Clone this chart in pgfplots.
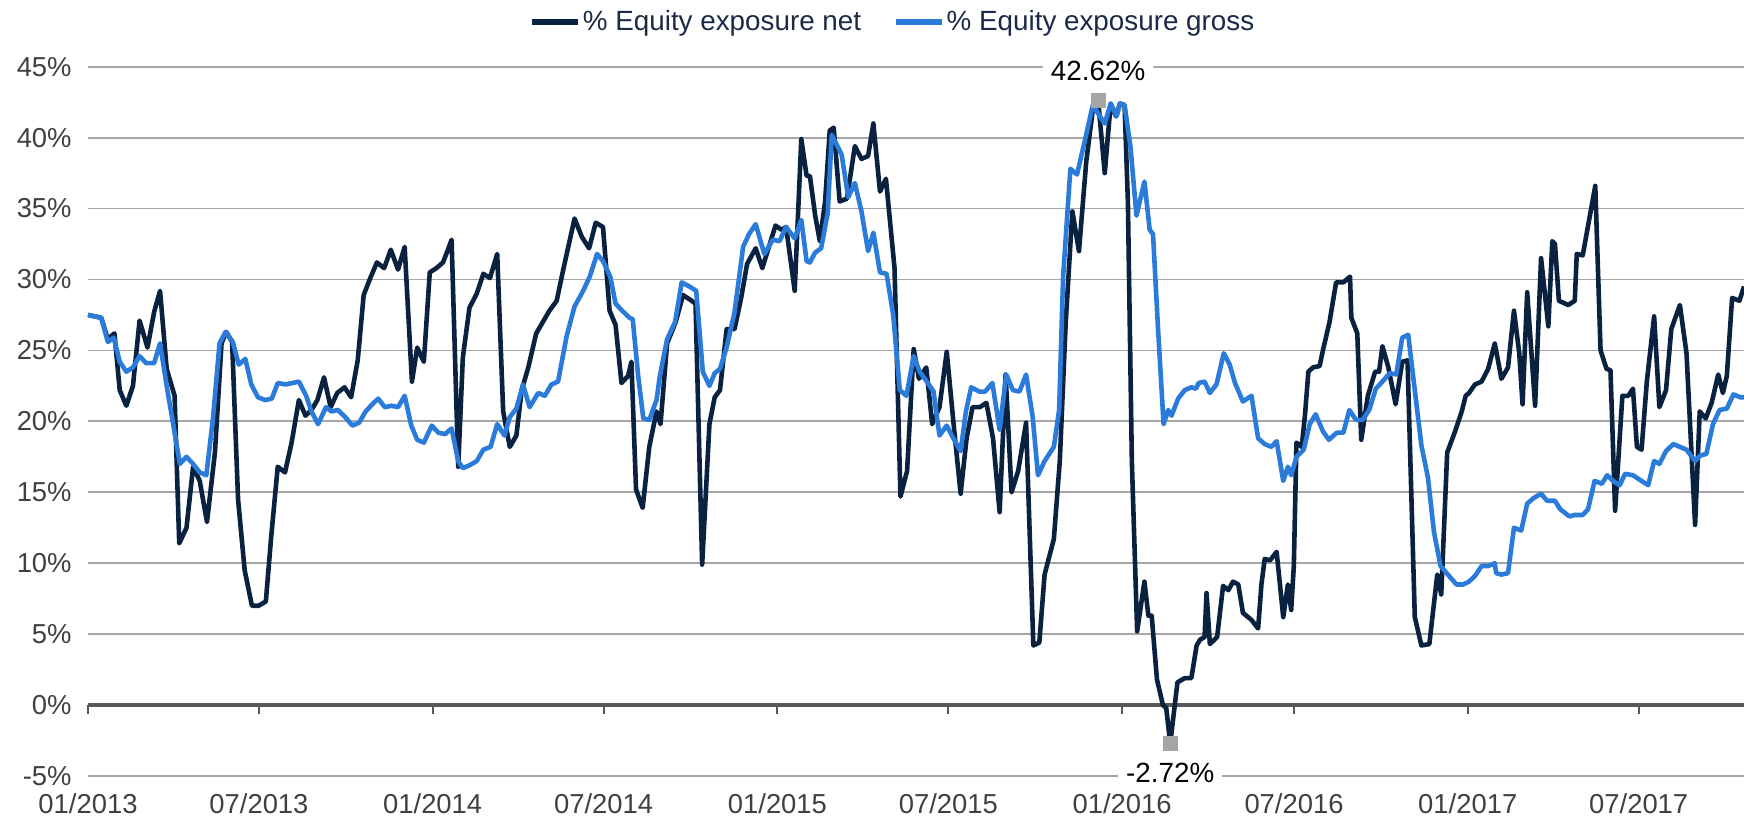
\documentclass[border=0pt]{standalone}
\usepackage{pgfplots}
\pgfplotsset{compat=1.18}
\usepackage{fontspec}
\setmainfont{Liberation Sans}
\definecolor{netc}{HTML}{0A2240}
\definecolor{grossc}{HTML}{2B7BDB}
\definecolor{gridc}{HTML}{A6A6A6}
\definecolor{axisc}{HTML}{595959}
\definecolor{tickc}{HTML}{404040}
\definecolor{legc}{HTML}{1B2A47}
\definecolor{markc}{HTML}{A5A5A5}
\begin{document}
\begin{tikzpicture}
\begin{axis}[
  at={(0,0)}, anchor=south west,
  scale only axis, width=828pt, height=354.65pt,
  xmin=0, xmax=250.5, ymin=-5, ymax=45,
  clip=false,
  axis line style={draw=none},
  tick style={draw=none},
  major tick length=0pt,
  ytick={-5,0,...,45},
  yticklabels={-5\%,0\%,5\%,10\%,15\%,20\%,25\%,30\%,35\%,40\%,45\%},
  xtick={0,25.86,52.14,78.0,104.29,130.14,156.43,182.43,208.71,234.57},
  xticklabels={01/2013,07/2013,01/2014,07/2014,01/2015,07/2015,01/2016,07/2016,01/2017,07/2017},
  ymajorgrids, grid style={gridc, line width=0.9pt},
  tick label style={font=\fontsize{13.7}{16}\selectfont, text=tickc},
  yticklabel style={anchor=east, inner sep=0pt, xshift=-8pt},
  xticklabel style={anchor=base, inner sep=0pt, yshift=-19pt},
  legend columns=2,
  legend style={at={(0.486,1.063)}, anchor=center, draw=none, fill=none,
    font=\fontsize{13.9}{16}\selectfont, text=legc,
    /tikz/every even column/.append style={column sep=15pt},
    inner sep=0pt, nodes={inner sep=1pt}},
  legend image code/.code={\draw[#1, line width=2.8pt] (0pt,0pt) -- (23pt,0pt);},
]
\draw[axisc, line width=1.6pt] (axis cs:0,0) -- (axis cs:250.5,0);
\pgfplotsinvokeforeach{0,25.86,52.14,78.0,104.29,130.14,156.43,182.43,208.71,234.57}{
  \draw[axisc, line width=1pt] (axis cs:#1,0) -- ++(0pt,-4.5pt);
}
\addplot[netc, line width=2.3pt, line join=round] coordinates {
(0,27.5) (2.0,27.3) (3.0,25.8) (4.0,26.2) (4.8,22.2) (5.8,21.1) (6.8,22.5) (7.8,27.1) (9.0,25.2) (10.0,27.7) (10.9,29.2) (11.9,23.7) (13.1,21.8) (13.8,11.4) (14.9,12.5) (15.9,16.8) (16.9,15.8) (18.0,12.9) (19.2,17.8) (20.2,25.5) (20.9,26.3) (21.8,25.6) (22.7,14.5) (23.7,9.5) (24.8,7.0) (25.8,7.0) (26.9,7.3) (27.7,11.8) (28.7,16.8) (29.8,16.4) (30.8,18.5) (31.9,21.5) (32.9,20.4) (33.8,20.8) (34.7,21.5) (35.7,23.1) (36.7,21.0) (37.7,22.0) (38.8,22.4) (39.8,21.7) (40.8,24.3) (41.7,28.9) (42.7,30.1) (43.7,31.2) (44.8,30.8) (45.8,32.1) (46.9,30.7) (47.9,32.3) (49.0,22.8) (49.8,25.2) (50.8,24.2) (51.7,30.5) (52.7,30.8) (53.7,31.2) (54.2,31.8) (55.0,32.8) (56.0,16.8) (56.7,24.5) (57.7,28.0) (58.8,29.0) (59.8,30.4) (60.8,30.1) (61.9,31.8) (62.8,20.7) (63.8,18.2) (64.8,19.0) (65.6,22.2) (66.6,23.8) (67.8,26.2) (68.8,27.0) (69.8,27.8) (70.9,28.5) (71.8,30.5) (72.6,32.2) (73.6,34.3) (74.7,33.0) (75.8,32.2) (76.8,34.0) (77.9,33.7) (78.9,27.8) (79.8,26.8) (80.7,22.7) (81.7,23.2) (82.2,24.2) (82.9,15.2) (83.9,13.9) (84.9,18.2) (86.0,20.7) (86.6,19.8) (87.6,25.5) (88.9,27.0) (90.0,28.9) (91.0,28.6) (91.9,28.3) (92.9,9.9) (94.0,19.8) (94.8,21.7) (95.6,22.2) (96.6,26.5) (97.8,26.5) (98.8,28.7) (99.7,31.1) (101.0,32.2) (102.0,30.8) (103.0,32.3) (104.0,33.8) (104.9,33.5) (105.6,33.7) (106.9,29.2) (107.9,39.9) (108.7,37.3) (109.2,37.3) (110.0,34.5) (110.7,32.7) (111.5,35.5) (112.2,40.5) (112.8,40.7) (113.7,35.5) (114.8,35.7) (116.0,39.4) (117.0,38.5) (118.0,38.7) (118.8,41.0) (119.8,36.2) (120.7,37.1) (122.0,30.8) (122.9,14.7) (123.9,16.5) (124.9,25.1) (125.7,23.0) (126.8,23.8) (127.7,19.8) (128.8,21.0) (129.9,24.9) (131.0,19.5) (132.0,14.9) (132.9,18.8) (133.8,21.0) (134.9,21.0) (135.9,21.3) (136.9,18.8) (137.9,13.6) (138.8,23.3) (139.7,15.0) (140.7,16.5) (141.9,19.9) (143.0,4.2) (143.9,4.4) (144.7,9.2) (146.1,11.7) (147.0,17.2) (147.9,27.0) (148.9,34.8) (149.9,32.0) (151.0,38.3) (152.0,42.0) (152.8,42.62) (153.8,37.5) (154.7,42.4) (155.5,41.5) (156.1,42.4) (156.8,42.3) (157.3,35.5) (157.9,17.2) (158.7,5.2) (159.8,8.7) (160.4,6.3) (160.9,6.3) (161.7,1.8) (162.6,0.0) (163.1,-0.2) (163.7,-2.72) (164.8,1.6) (165.9,1.9) (166.9,1.9) (167.7,4.2) (168.2,4.6) (168.9,4.8) (169.2,7.9) (169.7,4.3) (170.8,4.8) (171.7,8.4) (172.5,8.1) (173.2,8.7) (174.0,8.5) (174.7,6.5) (176.0,6.0) (177.0,5.4) (177.5,8.5) (178.0,10.3) (178.8,10.2) (179.8,10.8) (180.8,6.2) (181.5,8.5) (182.0,6.7) (182.4,9.8) (182.8,18.5) (183.6,18.2) (184.1,20.5) (184.6,23.5) (185.3,23.8) (186.3,23.9) (186.8,25.0) (187.8,27.0) (188.8,29.8) (189.9,29.8) (190.9,30.2) (191.1,27.3) (192.0,26.2) (192.6,18.7) (193.6,21.8) (194.7,23.5) (195.3,23.5) (195.8,25.3) (196.7,23.8) (197.8,21.2) (198.8,24.2) (199.6,24.3) (200.7,6.2) (201.7,4.2) (202.9,4.3) (204.1,9.2) (204.7,7.8) (205.6,17.8) (206.8,19.3) (207.8,20.7) (208.4,21.8) (208.9,22.0) (209.8,22.6) (210.8,22.8) (211.8,23.7) (212.8,25.5) (213.8,23.0) (214.8,23.8) (215.7,27.8) (216.5,24.8) (217.0,21.2) (217.7,29.1) (218.9,21.1) (219.8,31.5) (220.9,26.7) (221.5,32.7) (221.9,32.5) (222.5,28.5) (223.9,28.2) (224.9,28.5) (225.2,31.8) (226.1,31.7) (228.0,36.6) (228.8,25.0) (229.7,23.7) (230.3,23.6) (231.0,13.7) (232.1,21.8) (233.0,21.8) (233.7,22.3) (234.3,18.2) (235.0,18.0) (235.8,22.8) (236.9,27.4) (237.7,21.0) (238.7,22.2) (239.5,26.5) (240.8,28.2) (241.8,24.8) (243.1,12.7) (243.8,20.7) (244.7,20.2) (245.6,21.3) (246.6,23.3) (247.3,22.0) (247.9,23.2) (248.7,28.7) (249.8,28.5) (250.5,29.5)
};
\addlegendentry{\% Equity exposure net}
\addplot[grossc, line width=2.3pt, line join=round] coordinates {
(0,27.5) (2.0,27.3) (3.0,25.6) (3.9,25.9) (4.8,24.2) (5.8,23.5) (6.8,23.8) (7.8,24.6) (8.8,24.1) (10.0,24.1) (10.9,25.5) (11.9,22.5) (13.1,19.2) (13.9,17.0) (14.9,17.5) (15.9,17.0) (16.9,16.4) (17.9,16.2) (18.9,20.2) (19.9,25.5) (20.8,26.3) (21.9,25.6) (22.8,24.0) (23.8,24.4) (24.7,22.6) (25.7,21.7) (26.8,21.5) (27.8,21.6) (28.7,22.7) (29.9,22.6) (31.9,22.8) (33.0,21.8) (33.8,20.7) (34.8,19.8) (36.0,21.0) (36.8,20.7) (37.8,20.8) (38.9,20.3) (40.0,19.7) (41.0,19.9) (42.0,20.7) (43.0,21.2) (43.9,21.6) (44.9,21.0) (45.9,21.1) (46.9,21.0) (47.9,21.8) (48.9,19.7) (49.8,18.7) (50.8,18.5) (52.0,19.7) (53.0,19.2) (54.0,19.1) (55.0,19.5) (56.0,17.2) (56.7,16.7) (57.7,16.9) (58.8,17.2) (59.8,18.0) (60.9,18.2) (61.9,19.8) (63.0,19.0) (63.8,20.3) (64.8,20.9) (65.8,22.6) (66.8,21.0) (68.1,22.0) (69.1,21.8) (70.1,22.6) (71.1,22.8) (72.4,26.0) (73.6,28.1) (74.9,29.2) (75.9,30.2) (77.0,31.8) (77.9,31.3) (79.0,30.2) (79.8,28.3) (80.8,27.8) (81.9,27.3) (82.4,27.2) (83.2,23.3) (84.0,20.2) (84.9,20.1) (86.0,21.5) (86.5,23.2) (87.6,25.8) (88.8,27.0) (89.8,29.8) (91.0,29.5) (92.0,29.2) (93.0,23.5) (94.0,22.5) (94.8,23.4) (95.6,23.7) (96.6,25.2) (97.8,27.7) (99.1,32.3) (100.0,33.2) (101.0,33.9) (102.3,31.8) (103.6,32.8) (104.6,32.7) (105.6,33.7) (106.9,32.9) (107.9,34.2) (108.7,31.3) (109.2,31.2) (110.0,31.9) (110.9,32.2) (111.9,34.7) (112.5,40.2) (114.0,38.8) (115.0,35.8) (116.0,36.8) (117.0,34.8) (118.0,32.0) (118.8,33.3) (119.8,30.5) (120.8,30.4) (121.8,27.5) (122.8,22.2) (123.8,21.8) (124.9,24.6) (125.8,23.5) (126.9,22.8) (127.9,22.1) (128.8,19.0) (129.9,19.7) (130.9,18.8) (132.0,17.9) (132.8,20.7) (133.6,22.4) (134.8,22.1) (135.7,22.1) (136.8,22.7) (137.9,19.4) (138.9,23.3) (139.9,22.2) (140.9,22.1) (141.9,23.3) (142.9,20.3) (143.7,16.2) (144.7,17.2) (146.1,18.2) (146.9,20.8) (147.5,30.2) (148.6,37.8) (149.6,37.4) (150.5,39.2) (152.0,42.3) (152.8,41.7) (153.8,41.0) (154.7,42.4) (155.6,41.5) (156.1,42.4) (156.8,42.3) (157.7,39.3) (158.6,34.5) (159.8,36.9) (160.6,33.5) (161.1,33.2) (161.9,26.2) (162.7,19.8) (163.4,20.8) (163.9,20.4) (164.9,21.6) (165.9,22.2) (166.9,22.4) (167.6,22.3) (168.0,22.7) (168.9,22.8) (169.7,22.0) (170.7,22.6) (171.8,24.8) (172.7,24.0) (173.5,22.7) (174.7,21.4) (176.0,21.8) (177.0,18.8) (178.0,18.4) (179.0,18.2) (179.8,18.6) (180.8,15.8) (181.5,16.8) (182.0,16.2) (182.8,17.5) (183.9,18.0) (184.8,19.8) (185.7,20.5) (186.8,19.3) (187.7,18.7) (188.9,19.2) (189.9,19.2) (190.8,20.8) (191.8,20.1) (192.8,20.1) (193.8,20.8) (194.8,22.3) (195.8,22.8) (196.9,23.4) (197.9,23.3) (198.8,25.9) (199.7,26.1) (200.7,22.2) (201.7,18.3) (202.7,16.0) (203.6,12.2) (204.6,9.8) (205.7,9.2) (207.0,8.5) (208.0,8.5) (208.9,8.7) (209.8,9.1) (210.8,9.8) (211.8,9.8) (212.8,10.0) (213.0,9.3) (213.8,9.2) (214.8,9.3) (215.7,12.5) (216.8,12.3) (217.7,14.2) (218.7,14.6) (219.8,14.9) (220.7,14.4) (221.9,14.4) (222.7,13.8) (224.1,13.3) (224.9,13.4) (226.1,13.4) (226.9,13.8) (227.9,15.8) (229.0,15.6) (229.8,16.2) (230.7,15.8) (231.7,15.5) (232.5,16.3) (233.7,16.2) (235.0,15.8) (236.0,15.5) (236.9,17.2) (237.7,17.0) (238.7,17.9) (239.8,18.4) (240.8,18.2) (241.8,18.0) (243.1,17.2) (243.9,17.6) (244.8,17.7) (245.8,19.8) (246.8,20.8) (247.9,20.9) (248.9,21.9) (249.9,21.7) (250.5,21.7)
};
\addlegendentry{\% Equity exposure gross}
\addplot[forget plot, only marks, mark=square*, mark size=3.6pt, color=markc,
  mark options={rounded corners=1pt},
  nodes near coords={42.62\%},
  every node near coord/.append style={anchor=center, yshift=15pt, fill=white, inner xsep=4pt, inner ysep=1pt, text=black, font=\fontsize{13.9}{16}\selectfont}]
  coordinates {(152.8,42.62)};
\addplot[forget plot, only marks, mark=square*, mark size=3.6pt, color=markc,
  mark options={rounded corners=1pt},
  nodes near coords={-2.72\%},
  every node near coord/.append style={anchor=center, yshift=-14.5pt, fill=white, inner xsep=4pt, inner ysep=1pt, text=black, font=\fontsize{13.9}{16}\selectfont}]
  coordinates {(163.7,-2.72)};
\end{axis}
\pgfresetboundingbox
\path[use as bounding box] (-44pt,-23pt) rectangle (828pt,388pt);
\end{tikzpicture}
\end{document}
